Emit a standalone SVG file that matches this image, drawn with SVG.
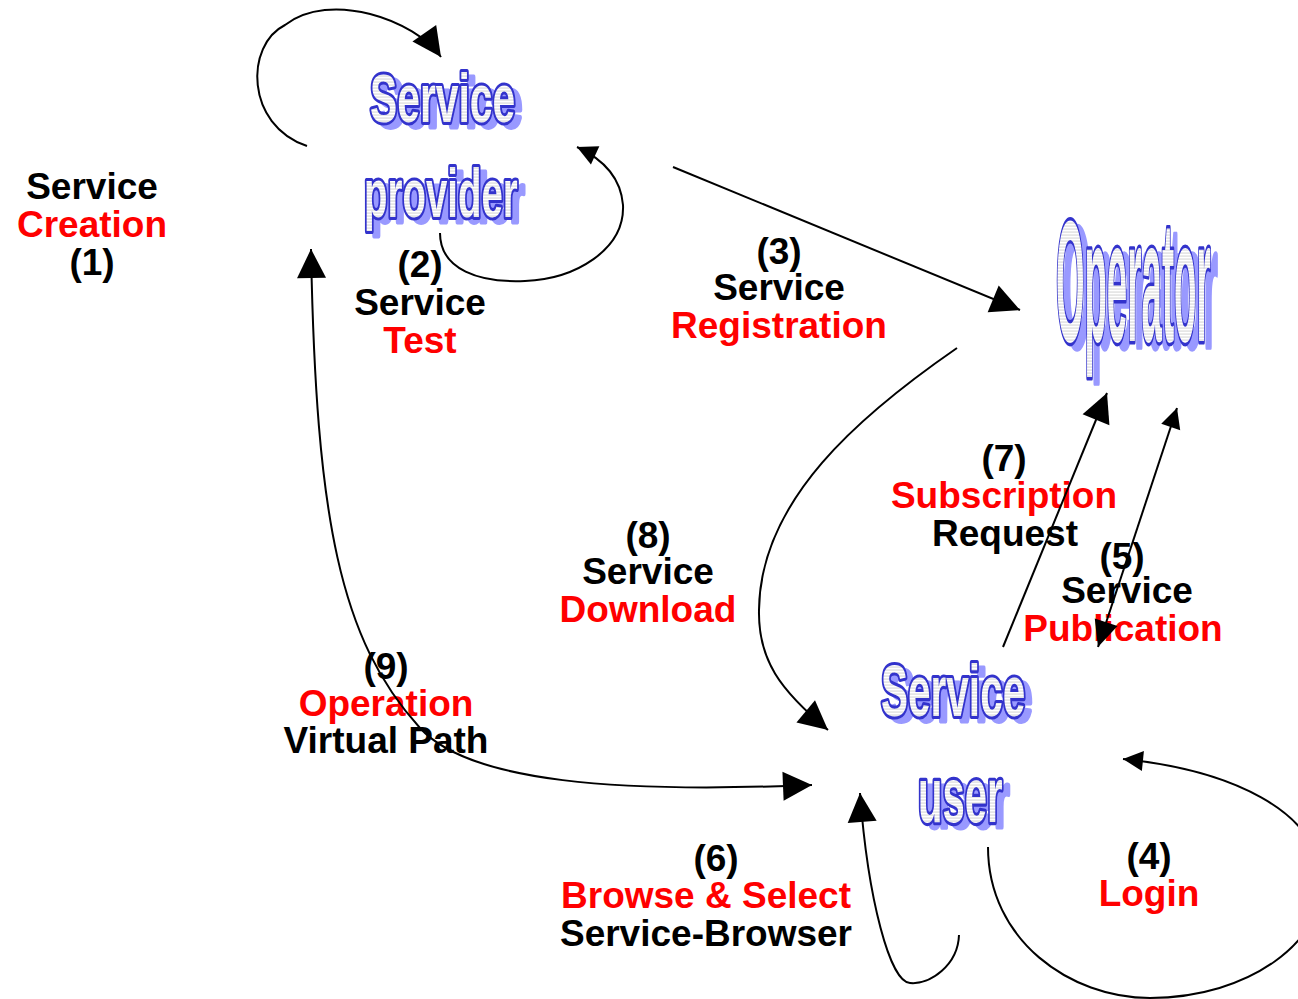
<svg xmlns="http://www.w3.org/2000/svg" width="1298" height="999" viewBox="0 0 1298 999">
<style>
.lbl{font-family:"Liberation Sans",Arial,sans-serif;font-weight:bold;font-size:37px;text-anchor:middle}
.k{fill:#000}
.r{fill:#ff0000}
.wa{font-family:"Liberation Sans",Arial,sans-serif;font-weight:bold}
.wa-sh{fill:#9999ff;stroke:#9999ff;stroke-width:4;stroke-linejoin:round;vector-effect:non-scaling-stroke}
.wa-fg{fill:url(#stripe);stroke:#3333cc;stroke-width:5;stroke-linejoin:round;paint-order:stroke fill;vector-effect:non-scaling-stroke}
.c{fill:none;stroke:#000;stroke-width:2}
</style>
<defs>
<pattern id="stripe" patternUnits="userSpaceOnUse" width="6" height="3">
<rect width="6" height="3" fill="#e6e6e6"/>
<rect width="6" height="1.2" fill="#ffffff"/>
</pattern>
<marker id="aL" markerUnits="userSpaceOnUse" markerWidth="30" markerHeight="30" refX="29" refY="14.5" orient="auto-start-reverse" overflow="visible"><path d="M0,0 L29,14.5 L0,29 z" fill="#000"/></marker>
<marker id="aM" markerUnits="userSpaceOnUse" markerWidth="27" markerHeight="25" refX="26" refY="12" orient="auto-start-reverse" overflow="visible"><path d="M0,0 L26,12 L0,24 z" fill="#000"/></marker>
<marker id="aS" markerUnits="userSpaceOnUse" markerWidth="21" markerHeight="21" refX="20" refY="10" orient="auto-start-reverse" overflow="visible"><path d="M0,0 L20,10 L0,20 z" fill="#000"/></marker>
</defs>
<rect width="1298" height="999" fill="#ffffff"/>

<g id="service-provider" class="wa" font-size="68">
<text class="wa-sh" transform="translate(377,127) scale(0.6,1)">Service</text>
<text class="wa-sh" transform="translate(371,222) scale(0.565,1)">provider</text>
<text class="wa-fg" transform="translate(370,122) scale(0.6,1)">Service</text>
<text class="wa-fg" transform="translate(364,217) scale(0.565,1)">provider</text>
</g>

<g id="operator" class="wa" font-size="172">
<text class="wa-sh" transform="translate(1063,347) scale(0.213,1)">Operator</text>
<text class="wa-fg" transform="translate(1056,341) scale(0.213,1)">Operator</text>
</g>

<g id="service-user" class="wa">
<text class="wa-sh" font-size="72" transform="translate(888,721) scale(0.563,1)">Service</text>
<text class="wa-sh" font-size="77" transform="translate(925,827) scale(0.52,1)">user</text>
<text class="wa-fg" font-size="72" transform="translate(881,716) scale(0.563,1)">Service</text>
<text class="wa-fg" font-size="77" transform="translate(918,822) scale(0.52,1)">user</text>
</g>

<g id="labels" class="lbl">
<g id="label-1"><text class="k" x="92" y="199">Service</text><text class="r" x="92" y="237">Creation</text><text class="k" x="92" y="275">(1)</text></g>
<g id="label-2"><text class="k" x="420" y="277">(2)</text><text class="k" x="420" y="315">Service</text><text class="r" x="420" y="353">Test</text></g>
<g id="label-3"><text class="k" x="779" y="264">(3)</text><text class="k" x="779" y="300">Service</text><text class="r" x="779" y="338">Registration</text></g>
<g id="label-4"><text class="k" x="1149" y="869">(4)</text><text class="r" x="1149" y="906">Login</text></g>
<g id="label-5"><text class="k" x="1122" y="569">(5)</text><text class="k" x="1127" y="603">Service</text><text class="r" x="1123" y="641">Publication</text></g>
<g id="label-6"><text class="k" x="716" y="871">(6)</text><text class="r" x="706" y="908">Browse &amp; Select</text><text class="k" x="706" y="946">Service-Browser</text></g>
<g id="label-7"><text class="k" x="1004" y="471">(7)</text><text class="r" x="1004" y="508">Subscription</text><text class="k" x="1005" y="546">Request</text></g>
<g id="label-8"><text class="k" x="648" y="548">(8)</text><text class="k" x="648" y="584">Service</text><text class="r" x="648" y="622">Download</text></g>
<g id="label-9"><text class="k" x="386" y="679">(9)</text><text class="r" x="386" y="716">Operation</text><text class="k" x="386" y="753">Virtual Path</text></g>
</g>

<g id="connectors">
<path id="c1" class="c" d="M307,146 C245,125 245,45 285,25 C330,-10 415,20 441,57" marker-end="url(#aL)"/>
<path id="c2" class="c" d="M440,233 C440,270 480,283 525,281 C575,279 625,250 623,205 C621,180 605,160 577,147" marker-end="url(#aS)"/>
<path id="c3" class="c" d="M673,167 L1020,310" marker-end="url(#aL)"/>
<path id="c4" class="c" d="M988,847 C988,940 1070,998 1150,998 C1250,998 1325,940 1322,880 C1318,810 1230,770 1123,759" marker-end="url(#aS)"/>
<path id="c5" class="c" d="M1098,647 L1177,408" marker-start="url(#aM)" marker-end="url(#aS)"/>
<path id="c6" class="c" d="M959,935 C958,965 930,985 910,983 C890,982 868,900 860,793" marker-end="url(#aL)"/>
<path id="c7" class="c" d="M1003,647 L1107,393" marker-end="url(#aL)"/>
<path id="c8" class="c" d="M957,348 C860,415 760,500 759,610 C758,660 780,690 828,730" marker-end="url(#aL)"/>
<path id="c9" class="c" d="M311,249 C316,520 340,640 420,728 C470,783 620,793 812,785" marker-start="url(#aL)" marker-end="url(#aL)"/>
</g>
</svg>
